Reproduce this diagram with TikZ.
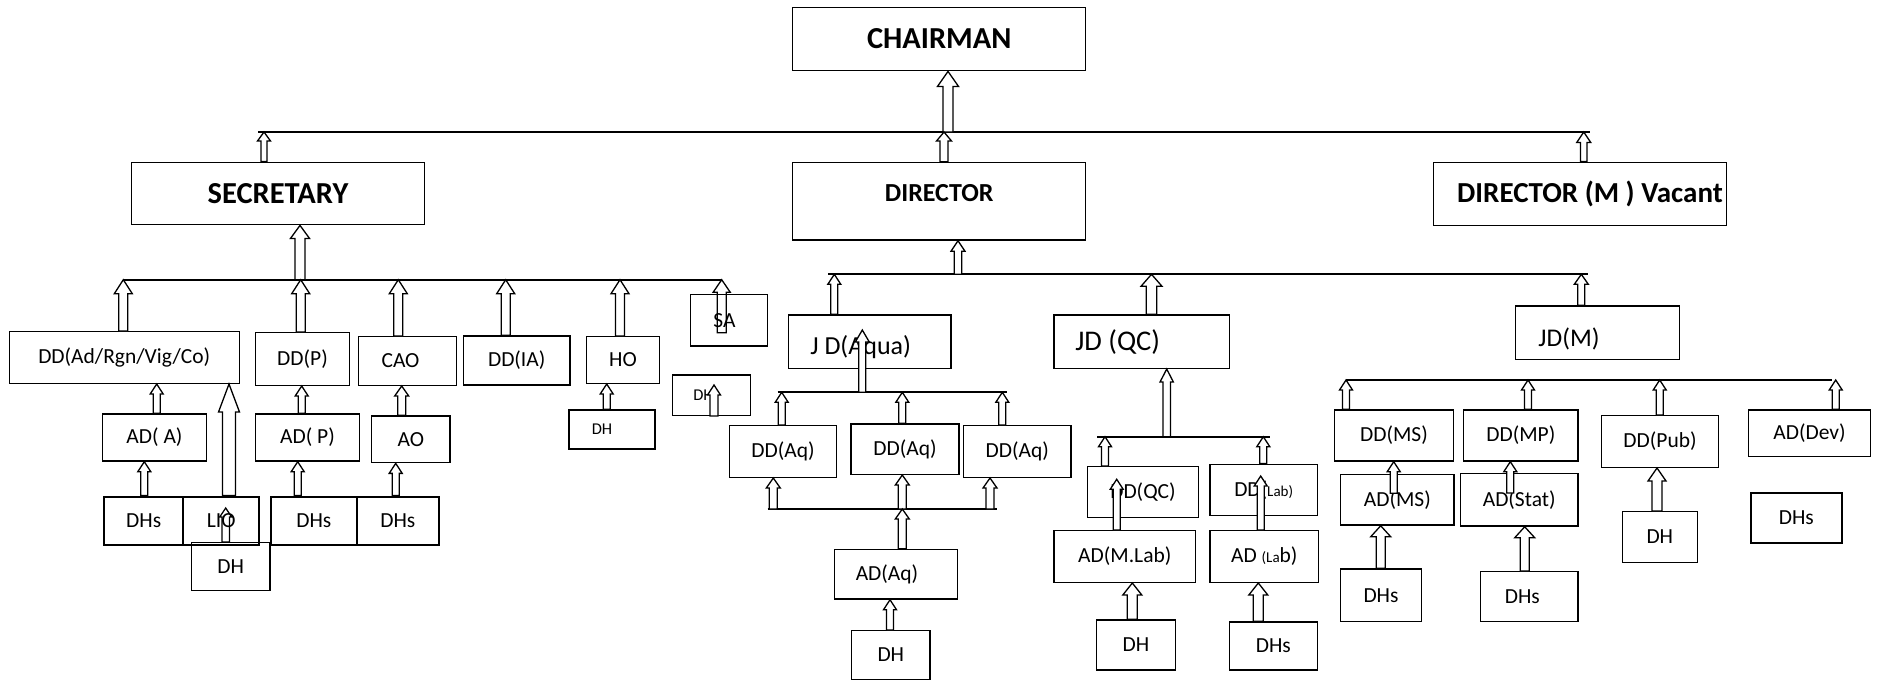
\documentclass[tikz,border=0pt]{standalone}
\usepackage{fontspec}
\setmainfont{Carlito}
\usetikzlibrary{calc}

% hollow block arrow: [half shaft/half head/head length]{x}{from}{to}
\newcommand{\blkarr}[4][3.5/6.5/10]{%
	\foreach \as/\aw/\ah in {#1}{%
		\draw[blk] let \p1=(#2,0 |- #3), \p2=(#4) in
		(\x1-\as*1pt,\y1) -- (\x1-\as*1pt,\y2-\ah*1pt) -- (\x1-\aw*1pt,\y2-\ah*1pt)
		-- (\x1,\y2) -- (\x1+\aw*1pt,\y2-\ah*1pt) -- (\x1+\as*1pt,\y2-\ah*1pt)
		-- (\x1+\as*1pt,\y1) -- cycle;
	}%
}
\newcommand{\subtxt}[1]{{\fontsize{15}{16}\selectfont #1}}

\begin{document}
\begin{tikzpicture}[x=1pt,y=-1pt,
	box/.style 2 args={draw, line width=1.4pt, minimum width=#1pt, minimum height=#2pt, inner sep=0pt, font=\fontsize{21.5}{24}\selectfont},
	heavy/.style={line width=2.2pt},
	bigtxt/.style={font=\fontsize{30.5}{34}\selectfont\bfseries},
	lbl/.style={font=\fontsize{21.5}{24}\selectfont},
	smalltxt/.style={font=\fontsize{16.5}{18}\selectfont},
	hline/.style={line width=1.8pt},
	blk/.style={draw=black, fill=white, line width=1.3pt, line join=miter}]

	\fill[white] (0,0) rectangle (1878,681);
	\useasboundingbox (0,0) rectangle (1878,681);

	% top level
	\node[box={293}{63.4},bigtxt] (chair) at (939.2,39) {CHAIRMAN};
	\node[box={292.6}{62.4},bigtxt] (secr) at (278,193.5) {SECRETARY};
	\node[box={293}{77.7},label={[font=\fontsize{26}{30}\selectfont\bfseries,yshift=8pt]center:DIRECTOR}] (dir) at (939.2,201.2) {};
	\node[box={292.6}{63},label={[font=\fontsize{29}{33}\selectfont\bfseries,xshift=10pt]center:DIRECTOR (M ) Vacant}] (dirm) at (1580,193.8) {};

	% secretary side
	\node[box={230}{51.6}] (dd1) at (124.3,357.5) {DD(Ad/Rgn/Vig/Co)};
	\node[box={93.6}{52.6}] (ddp) at (302.5,359) {DD(P)};
	\node[box={98.4}{48.6},label={[lbl,xshift=-7pt]center:CAO}] (cao) at (407.5,361) {};
	\node[box={106.7}{49}] (ddia) at (516.7,360.5) {DD(IA)};
	\node[box={72.6}{46.6}] (ho) at (623,360) {HO};
	\node[box={76.6}{51.7},label={[lbl,xshift=-4.5pt]center:SA}] (sa) at (729,320.2) {};
	\node[box={86}{39},label={[lbl,smalltxt,xshift=-10pt]center:DH}] (dhho) at (612,429.5) {};
	\node[box={78.4}{40.3},label={[lbl,smalltxt,xshift=-8pt]center:DH}] (dhsa) at (711.5,395.2) {};
	\node[box={104.4}{47}] (ada) at (154.5,437.5) {AD( A)};
	\node[box={79.3}{48.3},heavy] (dhs1) at (143.7,520.8) {DHs};
	\node[box={76}{48.3},heavy] (lio) at (221.3,520.8) {LIO};
	\node[box={78.3}{48}] (dhlio) at (230.8,566.7) {DH};
	\node[box={103.6}{47}] (adp) at (307.5,437.5) {AD( P)};
	\node[box={78.3}{46.7}] (ao) at (410.8,439.3) {AO};
	\node[box={85.7}{48.3},heavy] (dhs3) at (313.8,520.8) {DHs};
	\node[box={82.3}{48.3},heavy] (dhs4) at (397.8,520.8) {DHs};

	% director side
	\node[box={162.7}{53.3},label={[font=\fontsize{26}{30}\selectfont,xshift=-9pt,yshift=-5pt]center:J D(Aqua)}] (jdaq) at (869.7,341.7) {};
	\node[box={107.4}{51.6}] (dda1) at (783,451.5) {DD(Aq)};
	\node[box={108}{50.3}] (dda2) at (905,449.2) {DD(Aq)};
	\node[box={107.7}{51.6}] (dda3) at (1017.2,451.5) {DD(Aq)};
	\node[box={123.4}{49.7},label={[lbl,xshift=-9pt]center:AD(Aq)}] (adaq) at (896,574.2) {};
	\node[box={78.3}{48.6}] (dhaq) at (890.8,655) {DH};
	\node[box={175.3}{53.3},label={[font=\fontsize{28.5}{32}\selectfont,xshift=-24pt]center:JD (QC)}] (jdqc) at (1141.7,341.7) {};
	\node[box={110.6}{51}] (ddqc) at (1143,492.2) {DD(QC)};
	\node[box={107.3}{51}] (ddlab) at (1263.7,489.8) {DD(\subtxt{Lab)}};
	\node[box={141.7}{51.6}] (admlab) at (1124.8,556.5) {AD(M.Lab)};
	\node[box={108.7}{51.6}] (adlab) at (1264.3,556.5) {AD \subtxt{(La}b)};
	\node[box={78.6}{50}] (dhqc) at (1136,645) {DH};
	\node[box={88}{48}] (dhslab) at (1273.3,646) {DHs};

	% director (M) side
	\node[box={164.4}{53.3},label={[font=\fontsize{25.5}{29}\selectfont,xshift=-28.5pt,yshift=-6pt]center:JD(M)}] (jdm) at (1597.5,332.7) {};
	\node[box={119.4}{51}] (ddms) at (1394,435.5) {DD(MS)};
	\node[box={114.3}{51}] (ddmp) at (1520.8,435.5) {DD(MP)};
	\node[box={117.4}{51.6}] (ddpub) at (1660,441.5) {DD(Pub)};
	\node[box={121.6}{46.7}] (addev) at (1809.5,433.3) {AD(Dev)};
	\node[box={113.5}{50.7}] (adms) at (1397.3,499.7) {AD(MS)};
	\node[box={117.7}{52.7}] (adstat) at (1519.2,499.7) {AD(Stat)};
	\node[box={80.6}{52.7}] (dhsms) at (1381,595.3) {DHs};
	\node[box={97.3}{50},label={[lbl,xshift=-7pt]center:DHs}] (dhsst) at (1529.3,596.7) {};
	\node[box={75}{50.6}] (dhpub) at (1659.8,537) {DH};
	\node[box={91.3}{50},heavy] (dhsdev) at (1796.3,517.7) {DHs};

	% bus lines
	\coordinate (top-l) at (258,132);     \coordinate (top-r) at (1590,132);
	\coordinate (sec-l) at (124,279.7);   \coordinate (sec-r) at (722,279.7);
	\coordinate (dir-l) at (828,274.3);   \coordinate (dir-r) at (1588,274.3);
	\coordinate (aq-l) at (777.7,392.3);  \coordinate (aq-r) at (1007.3,392.3);
	\coordinate (aqlo-l) at (767.7,509);  \coordinate (aqlo-r) at (997.3,509);
	\coordinate (qc-l) at (1097.3,436.7); \coordinate (qc-r) at (1270,436.7);
	\coordinate (m-l) at (1346,380);      \coordinate (m-r) at (1832,380);
	\foreach \bus in {top,sec,dir,aq,aqlo,qc,m}{%
		\draw[hline] (\bus-l) -- (\bus-r);
	}

	% free arrow ends
	\coordinate (sa-foot) at (721.7,332.7);
	\coordinate (lio-tip) at (225.7,508);
	\coordinate (dhsa-tip) at (714,385);
	\coordinate (jdaq-tip) at (862.3,330);
	\coordinate (ddqc-tip) at (1116.7,479.3);
	\coordinate (ddlab-tip) at (1260.7,476);
	\coordinate (adms-foot) at (1393.7,493.3);
	\coordinate (adstat-foot) at (1510.3,493);

	% top arrows
	\blkarr[5/10.5/15]{948}{top-l}{chair.south}
	\blkarr[3/6.5/9]{264}{secr.north}{top-l}
	\blkarr[4/7.5/9]{944}{dir.north}{top-l}
	\blkarr[3.3/7/10.5]{1583.7}{dirm.north}{top-l}

	% secretary arrows
	\blkarr[5/9.5/13]{300}{sec-l}{secr.south}
	\foreach \xa/\nd in {123.3/dd1, 300.7/ddp, 398.3/cao, 505.7/ddia, 620/ho}{%
		\blkarr[4.5/9/14]{\xa}{\nd.north}{sec-l}
	}
	\begin{scope}[blk/.append style={fill=none}]
		\blkarr[4.5/8.5/12.5]{721.7}{sa-foot}{sec-l}
		\blkarr[3.8/6/9]{225.7}{dhlio.north}{lio-tip}
	\end{scope}
	\blkarr{156.7}{ada.north}{dd1.south}
	\blkarr{144.3}{dhs1.north}{ada.south}
	\blkarr[6.5/10.5/28]{229}{lio.north}{dd1.south}
	\blkarr{301.7}{adp.north}{ddp.south}
	\blkarr{297.7}{dhs3.north}{adp.south}
	\blkarr[4/7/10]{401.7}{ao.north}{cao.south}
	\blkarr{395.7}{dhs4.north}{ao.south}
	\blkarr{606.7}{dhho.north}{ho.south}
	\blkarr[4/6.5/10]{714}{dhsa.south}{dhsa-tip}

	% director arrows
	\blkarr[3.7/7/10.5]{958}{dir-l}{dir.south}
	\blkarr{834.3}{jdaq.north}{dir-l}
	\blkarr[5.3/10.5/12]{1151.5}{jdqc.north}{dir-l}
	\blkarr[3.5/7/10]{1581.3}{jdm.north}{dir-l}

	% aqua
	\blkarr[3.5/7/12]{862.3}{aq-l}{jdaq-tip}
	\foreach \xa/\nd in {781.7/dda1, 902.3/dda2, 1002.3/dda3}{%
		\blkarr{\xa}{\nd.north}{aq-l}
	}
	\foreach \xa/\nd in {773.3/dda1, 902.3/dda2, 990/dda3}{%
		\blkarr[4/7/10]{\xa}{aqlo-l}{\nd.south}
	}
	\blkarr[4/7/10]{902.3}{adaq.north}{aqlo-l}
	\blkarr{890}{dhaq.north}{adaq.south}

	% quality control
	\blkarr[3.7/6.7/13]{1166.7}{qc-l}{jdqc.south}
	\blkarr{1105}{ddqc.north}{qc-l}
	\blkarr{1263.3}{ddlab.north}{qc-l}
	\blkarr{1116.7}{admlab.north}{ddqc-tip}
	\blkarr{1260.7}{adlab.north}{ddlab-tip}
	\blkarr[5/9.5/12]{1132.3}{dhqc.north}{admlab.south}
	\blkarr[5/9.5/12]{1258.3}{dhslab.north}{adlab.south}

	% JD(M)
	\foreach \xa/\nd in {1346/ddms, 1528/ddmp, 1659.7/ddpub, 1835.7/addev}{%
		\blkarr{\xa}{\nd.north}{m-l}
	}
	\blkarr{1393.7}{adms-foot}{ddms.south}
	\blkarr{1510.3}{adstat-foot}{ddmp.south}
	\blkarr[4.5/10/11]{1380.7}{dhsms.north}{adms.south}
	\blkarr[4.5/10/11]{1524.7}{dhsst.north}{adstat.south}
	\blkarr[5/9/13]{1657}{dhpub.north}{ddpub.south}

\end{tikzpicture}
\end{document}
